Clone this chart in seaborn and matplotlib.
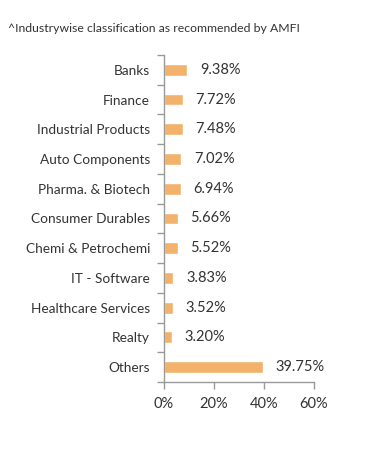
import seaborn as sns
import matplotlib.pyplot as plt
import pandas as pd
import numpy as np

industries = ["Banks", "Finance", "Industrial Products", "Auto Components",
              "Pharma. & Biotech", "Consumer Durables", "Chemi & Petrochemi",
              "IT - Software", "Healthcare Services", "Realty", "Others"]
weights = [9.38, 7.72, 7.48, 7.02, 6.94, 5.66, 5.52, 3.83, 3.52, 3.20, 39.75]
x_ticks = [0, 20, 40, 60]

sns.set_style("white")
plt.rcParams['font.family'] = ['Lato', 'DejaVu Sans']

df = pd.DataFrame({"industry": industries, "weight": weights})

fig = plt.figure(figsize=(3.91, 4.5), dpi=100)
ax = fig.add_axes([0.419, 0.151, 0.384, 0.727])
sns.barplot(data=df, x="weight", y="industry", color="#f2b26b", width=0.4,
            saturation=1, ax=ax)

for i, v in enumerate(weights):
    ax.text(v + 5, i, "{:.2f}%".format(v), va="center", ha="left",
            fontsize=10.5, color="#333333")

ax.set_xlim(0, 60)
ax.set_ylim(len(industries) - 0.5, -0.5)
ax.set_xticks(x_ticks)
ax.set_xticklabels(["{}%".format(t) for t in x_ticks], fontsize=10.5, color="#333333")
ax.set_yticks(np.arange(len(industries)))
ax.set_yticklabels(industries, fontsize=9.8, color="#333333")
ax.set_yticks(np.arange(len(industries) + 1) - 0.5, minor=True)
ax.tick_params(axis="y", which="major", left=True, length=0, pad=10)
ax.tick_params(axis="y", which="minor", left=True, length=5, color="#999999",
               width=1, direction="out")
ax.tick_params(axis="x", which="major", bottom=True, length=5, color="#999999",
               width=1, direction="out", pad=6)
ax.set(xlabel="", ylabel="")

for s in ["top", "right"]:
    ax.spines[s].set_visible(False)
for s in ["left", "bottom"]:
    ax.spines[s].set_color("#999999")
    ax.spines[s].set_linewidth(1)

fig.text(0.02, 0.937, "^Industrywise classification as recommended by AMFI",
         fontsize=8.8, color="#333333", va="center")

plt.savefig("out.png", dpi=100)
